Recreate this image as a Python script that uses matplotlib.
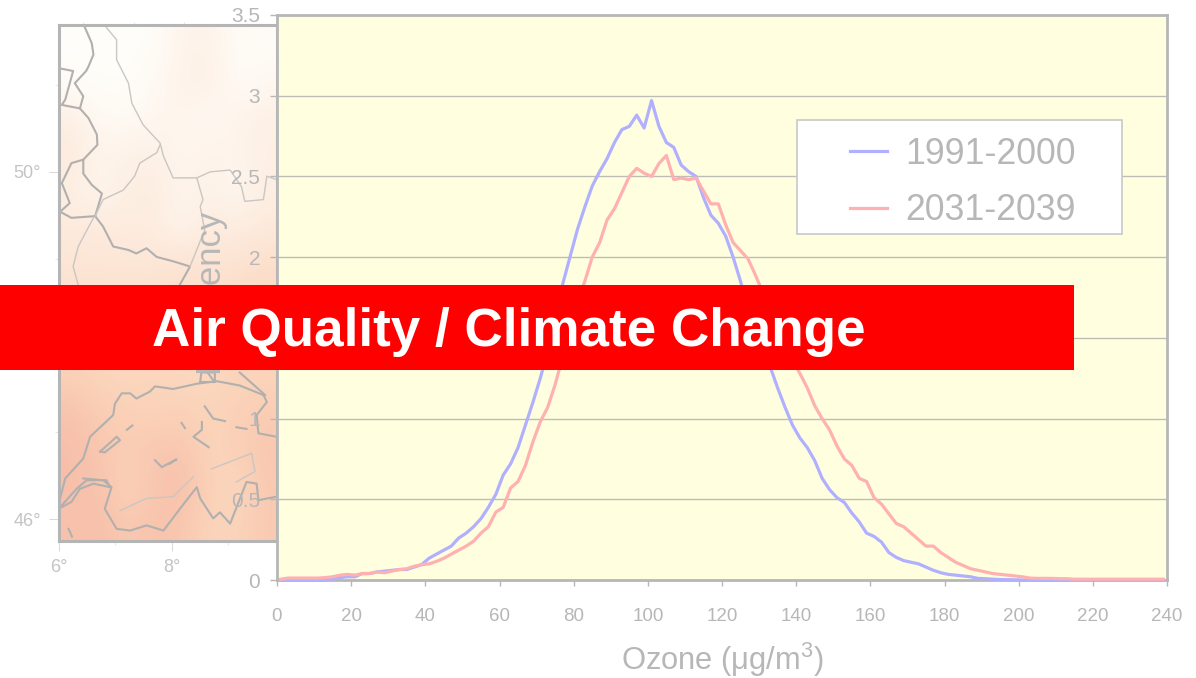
import numpy as np
import matplotlib
matplotlib.use("Agg")
import matplotlib.pyplot as plt
from matplotlib.colors import LinearSegmentedColormap
from matplotlib.patches import Rectangle

W, H = 1196, 678

# histogram bins are 2 ug/m3 wide, values at bin centres
ozone = np.arange(1, 240, 2)
freq_1991 = [0, 0, 0, 0, 0, 0, 0, .005, .015, .02,
             .02, .04, .04, .05, .055, .06, .065, .065, .08, .095,
             .135, .16, .185, .21, .26, .29, .33, .38, .45, .53,
             .65, .72, .82, .96, 1.10, 1.25, 1.42, 1.62, 1.83, 2.0,
             2.17, 2.31, 2.44, 2.53, 2.61, 2.71, 2.79, 2.81, 2.88, 2.80,
             2.97, 2.81, 2.71, 2.68, 2.57, 2.53, 2.50, 2.37, 2.26, 2.21,
             2.13, 2.0, 1.85, 1.68, 1.55, 1.43, 1.32, 1.19, 1.07, .96,
             .88, .82, .74, .63, .56, .51, .48, .415, .36, .29,
             .27, .235, .17, .14, .12, .11, .10, .08, .06, .045,
             .035, .03, .025, .02, .01, .008, .005, .003, .002, .001,
             0, 0, 0, 0, 0, 0, 0, 0, 0, 0,
             0, 0, 0, 0, 0, 0, 0, 0, 0, 0]
freq_2031 = [.005, .012, .012, .012, .012, .012, .015, .02, .03, .035,
             .03, .04, .04, .05, .045, .055, .065, .07, .085, .095,
             .10, .115, .135, .16, .185, .21, .24, .29, .33, .42,
             .45, .57, .61, .71, .855, .98, 1.07, 1.21, 1.38, 1.56,
             1.72, 1.85, 2.0, 2.09, 2.23, 2.30, 2.40, 2.50, 2.55, 2.52,
             2.50, 2.58, 2.63, 2.48, 2.49, 2.48, 2.49, 2.41, 2.33, 2.33,
             2.20, 2.09, 2.04, 1.99, 1.89, 1.78, 1.66, 1.55, 1.45, 1.36,
             1.28, 1.19, 1.08, 1.00, .93, .83, .75, .71, .63, .61,
             .51, .47, .41, .35, .33, .29, .25, .21, .21, .17,
             .14, .11, .09, .07, .06, .05, .04, .035, .03, .025,
             .02, .012, .01, .01, .01, .008, .008, .005, .005, .005,
             .005, .005, .005, .005, .005, .005, .005, .005, .005, .005]
x_ticks = list(range(0, 241, 20))
y_ticks = [0, 0.5, 1, 1.5, 2, 2.5, 3, 3.5]
y_labels = ["0", "0.5", "1", "1.5", "2", "2.5", "3", "3.5"]

# faded ozone field behind the chart, rows run north to south
map_field = [[.01, .01, .01, .01, .12, .15, .03, .04],
             [.01, .01, .01, .05, .15, .18, .03, .06],
             [.18, .05, .05, .08, .12, .05, .12, .18],
             [.25, .12, .15, .18, .08, .15, .12, .18],
             [.18, .10, .20, .22, .12, .15, .08, .20],
             [.25, .25, .22, .22, .10, .25, .20, .25],
             [.30, .30, .30, .30, .35, .30, .35, .40],
             [.40, .40, .40, .40, .40, .45, .45, .50],
             [.50, .50, .50, .50, .50, .50, .55, .55],
             [.60, .55, .50, .55, .50, .50, .55, .55],
             [.80, .65, .60, .55, .60, .55, .60, .65],
             [.85, .75, .65, .75, .75, .55, .60, .75],
             [.85, .80, .55, .75, .85, .60, .50, .70],
             [.80, .85, .70, .80, .75, .55, .55, .70]]

# borders as (lon, lat) lists
thick_borders = [
    [(6.46, 51.66), (6.58, 51.48), (6.61, 51.35), (6.52, 51.21), (6.48, 51.16), (6.28, 51.02),
     (6.43, 50.87), (6.37, 50.73), (6.52, 50.62), (6.67, 50.43), (6.68, 50.31), (6.43, 50.14),
     (6.43, 49.98), (6.58, 49.85), (6.76, 49.75), (6.64, 49.49), (6.78, 49.37), (6.96, 49.14),
     (7.23, 49.10), (7.37, 49.06), (7.55, 49.12), (7.73, 49.02), (8.02, 48.97), (8.32, 48.91),
     (8.14, 48.70)],
    [(6.43, 50.14), (6.22, 50.10), (6.05, 49.87), (6.19, 49.64), (6.02, 49.54)],
    [(6.02, 49.54), (6.22, 49.47), (6.64, 49.49)],
    [(6.02, 51.19), (6.25, 51.16), (6.11, 50.83), (6.05, 50.77), (6.37, 50.73)],
    [(6.02, 46.24), (6.11, 46.47), (6.43, 46.70), (6.55, 46.95), (6.96, 47.20), (6.99, 47.33),
     (7.11, 47.45), (7.26, 47.45), (7.37, 47.39), (7.61, 47.47), (7.70, 47.53), (8.02, 47.50),
     (8.44, 47.56), (8.79, 47.59), (9.20, 47.54), (9.62, 47.43), (9.68, 47.35), (9.50, 47.20),
     (9.53, 46.99), (9.85, 46.95)],
    [(6.43, 46.47), (6.78, 46.45), (6.93, 46.37), (6.81, 46.12), (7.02, 45.89), (7.26, 45.87),
     (7.55, 45.93), (7.85, 45.87), (8.14, 46.12), (8.44, 46.37), (8.50, 46.24), (8.73, 46.01),
     (8.85, 46.08), (9.03, 45.95), (9.32, 46.43), (9.50, 46.41), (9.53, 46.22), (9.85, 46.26)],
    [(6.05, 46.16), (6.31, 46.35), (6.49, 46.45), (6.84, 46.45), (6.90, 46.37), (6.61, 46.41),
     (6.37, 46.35), (6.22, 46.20), (6.05, 46.14)],
    [(6.73, 46.78), (7.02, 46.95), (7.08, 46.91), (6.81, 46.77), (6.73, 46.78)],
    [(7.20, 47.03), (7.30, 47.08)],
    [(8.58, 47.30), (8.73, 47.16), (8.94, 47.13)],
    [(9.14, 47.06), (9.32, 47.04)],
    [(8.17, 47.11), (8.23, 47.05)],
    [(8.53, 47.12), (8.53, 47.03), (8.38, 46.95), (8.65, 46.83)],
    [(7.70, 46.68), (7.82, 46.60), (8.08, 46.69), (7.96, 46.64)],
    [(6.17, 45.89), (6.23, 45.80)],
    [(8.50, 47.58), (8.52, 47.69), (8.76, 47.69), (8.76, 47.58), (8.50, 47.58)],
    [(8.62, 47.70), (8.73, 47.60)],
    [(9.20, 47.69), (9.65, 47.43)],
]
thin_borders = [
    [(6.84, 51.66), (7.02, 51.52), (7.02, 51.29), (7.23, 51.02), (7.29, 50.79), (7.49, 50.54),
     (7.79, 50.33), (7.85, 50.18), (8.02, 49.93), (8.44, 49.93), (8.55, 49.68), (8.50, 49.60),
     (8.58, 49.33), (8.32, 48.91)],
    [(7.79, 50.31), (7.73, 50.22), (7.43, 50.10), (7.34, 49.95), (7.14, 49.79), (6.78, 49.68),
     (6.64, 49.49)],
    [(8.44, 49.93), (8.68, 50.00), (9.03, 50.02), (9.23, 49.83), (9.29, 49.66), (9.62, 49.68),
     (9.68, 49.95), (9.85, 49.91)],
    [(6.61, 49.47), (6.34, 49.14), (6.25, 48.91), (6.34, 48.70)],
    [(8.70, 46.58), (9.41, 46.76), (9.47, 46.55), (9.14, 46.43)],
    [(7.08, 46.10), (7.55, 46.24), (8.02, 46.26), (8.38, 46.49)],
]

plt.rcParams["font.family"] = ["Liberation Sans", "DejaVu Sans"]
plt.rcParams["mathtext.default"] = "regular"

GREY = "#b7b7b7"


def px_box(left, top, right, bottom):
    return [left / W, 1 - bottom / H, (right - left) / W, (bottom - top) / H]


fig = plt.figure(figsize=(W / 100, H / 100), dpi=100)

# map in the background
ax_map = fig.add_axes(px_box(59, 25, 277, 541), zorder=1)
cmap = LinearSegmentedColormap.from_list(
    "faded", [(0, "#fffefa"), (.25, "#fdeadc"), (.55, "#fbd5bb"), (.8, "#f8c3ac"), (1, "#f4b5a6")])
ax_map.imshow(map_field, cmap=cmap, vmin=0, vmax=1, aspect="auto", interpolation="bicubic",
              extent=[6, 9.86, 45.75, 51.69])
for line in thick_borders:
    lon, lat = zip(*line)
    ax_map.plot(lon, lat, color="#b2b0ae", lw=1.5)
for line in thin_borders:
    lon, lat = zip(*line)
    ax_map.plot(lon, lat, color="#c9c6c3", lw=1.0)
ax_map.set_xlim(6, 9.86)
ax_map.set_ylim(45.75, 51.69)
ax_map.set_xticks([6, 8], ["6°", "8°"], color="#c4c4c4", fontsize=13)
ax_map.set_xticks([7, 9], minor=True)
ax_map.set_yticks([46, 50], ["46°", "50°"], color="#c4c4c4", fontsize=13)
ax_map.set_yticks([47, 48, 49, 51], minor=True)
ax_map.tick_params(which="major", length=7, width=0.7, color="#d8d8d8", pad=6)
ax_map.tick_params(which="minor", length=3, width=0.6, color="#e2e2e2")
ax_top = ax_map.secondary_xaxis("top")
ax_top.set_xticks([6.43, 7.32, 8.21], ["", "", ""])
ax_top.tick_params(length=2.5, width=0.6, color="#e2e2e2")
ax_top.spines["top"].set_visible(False)
for s in ax_map.spines.values():
    s.set_color("#b5b5b5")
    s.set_linewidth(2.2)

# frequency chart on top
ax = fig.add_axes(px_box(277, 15, 1167, 580), zorder=2)
ax.set_facecolor("#ffffe0")
ax.plot(ozone, freq_1991, color="#b0b0ff", lw=2.3, label="1991-2000", clip_on=False, zorder=3)
ax.plot(ozone, freq_2031, color="#ffb0b0", lw=2.3, label="2031-2039", clip_on=False, zorder=4)
ax.set_xlim(0, 240)
ax.set_ylim(0, 3.5)
ax.set_xticks(x_ticks)
ax.set_yticks(y_ticks, y_labels)
ax.grid(axis="y", color="#bdbdb5", lw=1)
ax.set_axisbelow(True)
ax.tick_params(axis="x", colors=GREY, labelsize=13.5, length=4.5, width=1, pad=16)
ax.tick_params(axis="y", colors=GREY, labelsize=15, length=4.7, width=1, pad=7.5)
for s in ax.spines.values():
    s.set_color(GREY)
    s.set_linewidth(2)
ax.set_xlabel("Ozone (μg/m$^3$)", fontsize=22.2, color=GREY, labelpad=11)
ax.set_ylabel("Frequency", fontsize=25, color=GREY, labelpad=4, y=0.512)

# white legend box, then the entries on it
ax.add_patch(Rectangle((520 / 890, 346 / 565), 325 / 890, 114 / 565, transform=ax.transAxes,
                       facecolor="white", edgecolor="#c8c8c8", lw=1.2, zorder=4.9))
leg = ax.legend(loc="center left", bbox_to_anchor=(573 / 890, 397.5 / 565), frameon=False, fontsize=25.7,
                labelcolor=GREY, handlelength=1.05, handletextpad=0.5, labelspacing=0.61,
                borderpad=0, borderaxespad=0)

# title band over everything
fig.add_artist(Rectangle((0, 1 - 370 / H), 1074 / W, 85 / H, transform=fig.transFigure,
                         facecolor="#ff0000", edgecolor="none", zorder=10))
fig.text(152 / W, 1 - 332 / H, "Air Quality / Climate Change", color="white", fontsize=38.25,
         fontweight="bold", ha="left", va="center", zorder=11)

fig.savefig("out.png", dpi=100)
